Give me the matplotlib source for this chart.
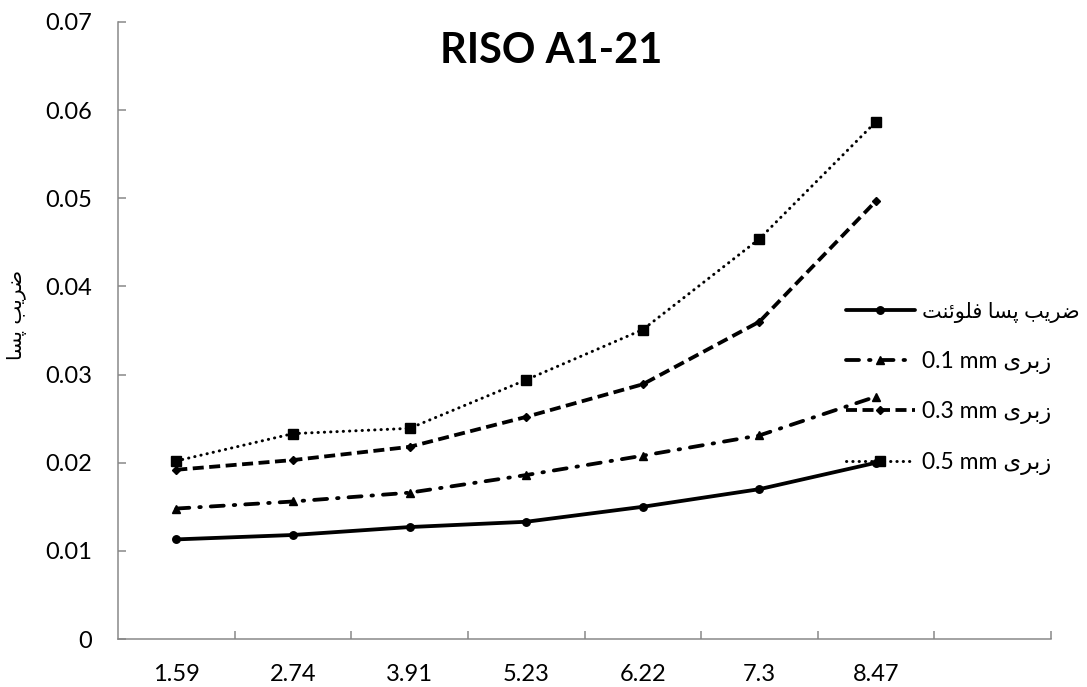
import matplotlib
matplotlib.use("Agg")
import matplotlib.pyplot as plt
import numpy as np

# ---------------- data ----------------
x_labels = ['1.59', '2.74', '3.91', '5.23', '6.22', '7.3', '8.47']
fluent = [0.0113, 0.0118, 0.0127, 0.0133, 0.0150, 0.0170, 0.0200]
rough_01 = [0.0148, 0.0156, 0.0166, 0.0186, 0.0208, 0.0231, 0.0275]
rough_03 = [0.0192, 0.0203, 0.0218, 0.0252, 0.0289, 0.0360, 0.0497]
rough_05 = [0.0202, 0.0233, 0.0239, 0.0294, 0.0351, 0.0454, 0.0587]
y_ticks = [0, 0.01, 0.02, 0.03, 0.04, 0.05, 0.06, 0.07]
y_tick_labels = ['0', '0.01', '0.02', '0.03', '0.04', '0.05', '0.06', '0.07']
title = 'RISO A1-21'
ylabel_fa = 'ضریب پسا'
leg_fluent_fa = 'ضریب پسا فلوئنت'
rough_word = 'زبری'
rough_sizes = ['0.1 mm', '0.3 mm', '0.5 mm']

# ---------------- minimal Arabic/Persian shaping ----------------
FORMS = {  # iso, fin, ini, med
    'ض': ('\uFEBD', '\uFEBE', '\uFEBF', '\uFEC0'),
    'ر': ('\uFEAD', '\uFEAE', None, None),
    'ی': ('\uFEEF', '\uFEF0', '\uFEF3', '\uFEF4'),
    'ب': ('\uFE8F', '\uFE90', '\uFE91', '\uFE92'),
    'پ': ('\uFB56', '\uFB57', '\uFB58', '\uFB59'),
    'س': ('\uFEB1', '\uFEB2', '\uFEB3', '\uFEB4'),
    'ا': ('\uFE8D', '\uFE8E', None, None),
    'ف': ('\uFED1', '\uFED2', '\uFED3', '\uFED4'),
    'ل': ('\uFEDD', '\uFEDE', '\uFEDF', '\uFEE0'),
    'و': ('\uFEED', '\uFEEE', None, None),
    'ئ': ('\uFE89', '\uFE8A', '\uFE8B', '\uFE8C'),
    'ن': ('\uFEE5', '\uFEE6', '\uFEE7', '\uFEE8'),
    'ت': ('\uFE95', '\uFE96', '\uFE97', '\uFE98'),
    'ز': ('\uFEAF', '\uFEB0', None, None),
}


def shape_word(w):
    out = []
    n = len(w)
    for i, c in enumerate(w):
        f = FORMS[c]
        jp = i > 0 and FORMS[w[i - 1]][2] is not None
        jn = i < n - 1 and f[2] is not None
        if jp and jn:
            g = f[3]
        elif jp:
            g = f[1]
        elif jn:
            g = f[2]
        else:
            g = f[0]
        out.append(g)
    return ''.join(reversed(out))


def shape(text):
    return ' '.join(shape_word(w) for w in reversed(text.split(' ')))


# ---------------- figure ----------------
W, H = 1087, 687
fig = plt.figure(figsize=(W / 100, H / 100), dpi=100)
ax = fig.add_axes([118 / W, 1 - 639 / H, (1051 - 118) / W, (639 - 22) / H])

FONT = ['Lato', 'DejaVu Sans']
AR = ['DejaVu Sans']
gray = '#868686'
px = 72 / 100  # points per pixel

x = np.arange(len(x_labels))
lw = 3.8 * px

l_fl, = ax.plot(x, fluent, color='black', lw=lw, ls='-', marker='o',
                ms=7.5 * px, solid_capstyle='round', label=shape(leg_fluent_fa))
l_01, = ax.plot(x, rough_01, color='black', lw=lw, marker='^', ms=8.5 * px,
                dashes=(13 / 3.8, 10 / 3.8, 0.4, 10 / 3.8),
                dash_capstyle='round', label='0.1 mm ' + shape(rough_word))
l_03, = ax.plot(x, rough_03, color='black', lw=lw, marker='D', ms=5.5 * px,
                dashes=(11 / 3.8, 5.5 / 3.8), dash_capstyle='butt',
                label='0.3 mm ' + shape(rough_word))
l_05, = ax.plot(x, rough_05, color='black', lw=3.0 * px, marker='s', ms=10 * px,
                dashes=(0.1, 2.0), dash_capstyle='round',
                label='0.5 mm ' + shape(rough_word))

ax.set_xlim(-0.5, 7.5)
ax.set_ylim(0, 0.07)
ax.set_yticks(y_ticks)
ax.set_yticklabels(y_tick_labels, family=FONT, fontsize=17)
ax.set_xticks(np.arange(8) + 0.5)
ax.set_xticklabels([])
ax.set_xticks(x, minor=True)
ax.set_xticklabels(x_labels, minor=True, family=FONT, fontsize=17)

for s in ['top', 'right']:
    ax.spines[s].set_visible(False)
for s in ['left', 'bottom']:
    ax.spines[s].set_color(gray)
    ax.spines[s].set_linewidth(1.5 * px)

ax.tick_params(axis='y', which='major', direction='in', length=8 * px, width=1.5 * px,
               color=gray, pad=18.5)
ax.tick_params(axis='x', which='major', direction='in', length=8 * px, width=1.5 * px,
               color=gray)
ax.tick_params(axis='x', which='minor', length=0, pad=18)

fig.text(551 / W, 1 - 51 / H, title, ha='center', va='center', fontsize=30,
         fontweight='bold', family=['Lato'])
fig.text(17 / W, 1 - 315 / H, shape(ylabel_fa), rotation=90, ha='center', va='center',
         fontsize=14.5, family=AR)

leg = ax.legend(handles=[l_fl, l_01, l_03, l_05], loc='upper left',
                bbox_to_anchor=(846 / W, 1 - 302 / H), bbox_transform=fig.transFigure,
                frameon=False, borderpad=0, borderaxespad=0, numpoints=1,
                handlelength=3.0, handletextpad=0.3, labelspacing=1.2,
                prop={'family': FONT, 'size': 16.5})
leg.get_texts()[0].set_fontsize(15)

fig.savefig('out.png', dpi=100, facecolor='white')
